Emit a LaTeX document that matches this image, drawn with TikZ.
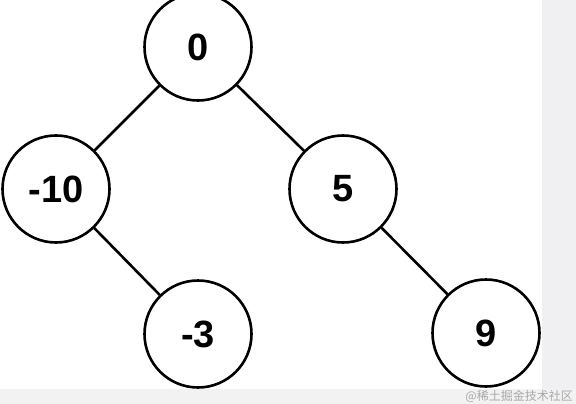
\documentclass[tikz,border=0pt]{standalone}
\usepackage{fontspec}
\setmainfont{Liberation Sans}
\newfontfamily\cjk{Noto Sans CJK SC}
\definecolor{sidegray}{RGB}{240,240,243}
\definecolor{footgray}{RGB}{242,242,242}
\definecolor{markgray}{RGB}{168,168,168}
\begin{document}
\begin{tikzpicture}[x=1pt, y=-1pt,
    treenode/.style={circle, draw, fill=white, line width=2.6pt, minimum size=107pt, inner sep=0pt,
        font=\fontsize{38}{40}\selectfont\bfseries},
    edge/.style={line width=2.6pt}]
    \useasboundingbox (0,0) rectangle (576,404);
    \fill[sidegray] (542,0) rectangle (576,389);
    \fill[footgray] (0,389) rectangle (576,404);
    \node[treenode] (n0) at (198,47) {0};
    \node[treenode] (nm10) at (56,189) {-10};
    \node[treenode] (n5) at (343,189) {5};
    \node[treenode] (nm3) at (198,334) {-3};
    \node[treenode] (n9) at (486,333) {9};
    \draw[edge] (n0) -- (nm10);
    \draw[edge] (n0) -- (n5);
    \draw[edge] (nm10) -- (nm3);
    \draw[edge] (n5) -- (n9);
    \node[anchor=east, inner sep=0pt, text=markgray, font=\cjk\fontsize{12}{12}\selectfont] (mark) at (573,396) {@稀土掘金技术社区};
\end{tikzpicture}
\end{document}
